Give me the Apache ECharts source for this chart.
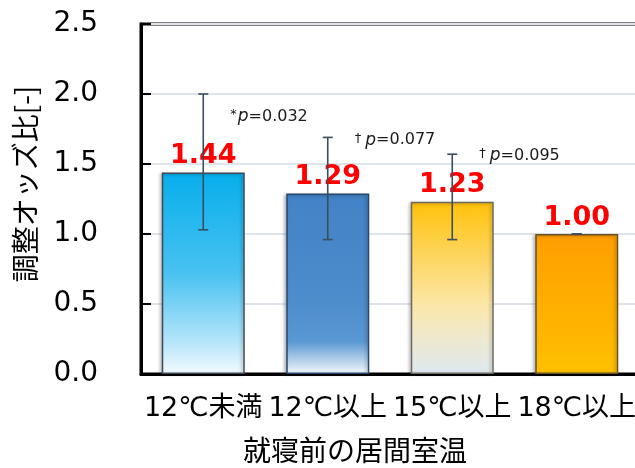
<!DOCTYPE html>
<html>
<head>
<meta charset="utf-8">
<style>
  html, body { margin: 0; padding: 0; background: #fff; overflow: hidden; }
  #chart { width: 645px; height: 468px; }
</style>
<script src="https://cdn.jsdelivr.net/npm/echarts@6/dist/echarts.min.js"></script>
</head>
<body>
<div id="chart"></div>
<script>
// Adjusted odds ratio by living-room temperature before bedtime
const categories = ['12℃未満', '12℃以上', '15℃以上', '18℃以上'];
const oddsRatio = [1.44, 1.29, 1.23, 1.00];
const ciLower = [1.03, 0.96, 0.96, 1.00];
const ciUpper = [2.00, 1.69, 1.57, 1.00];
const pMarks = ['*', '†', '†'];
const pValues = ['0.032', '0.077', '0.095'];
const pLabelY = [1.84, 1.67, 1.56];
const yTicks = [0, 0.5, 1.0, 1.5, 2.0, 2.5];

const NUM_FONT = '"DejaVu Sans", Verdana, sans-serif';
const JP_FONT = '"DejaVu Sans", "Noto Sans CJK JP", sans-serif';
const CJK_FONT = '"Noto Sans CJK JP", sans-serif';

const grad = (stops) => new echarts.graphic.LinearGradient(0, 0, 0, 1,
  stops.map(([o, c]) => ({ offset: o, color: c })));

const barStyles = [
  { color: grad([[0, '#06aeec'], [0.5, '#48c2f1'], [0.85, '#b8e6fa'], [1, '#f3fafe']]), borderColor: '#3e4a56' },
  { color: grad([[0, '#4282c6'], [0.6, '#4d8dcc'], [0.82, '#5a98d2'], [1, '#f5f8fc']]), borderColor: '#27486e' },
  { color: grad([[0, '#ffc20a'], [0.3, '#fdd45a'], [0.6, '#fbe7a8'], [0.8, '#ede8cf'], [1, '#dde8f0']]), borderColor: '#6d6a60' },
  { color: grad([[0, '#ff9e00'], [1, '#ffc000']]), borderColor: '#6b5320' }
];

const chart = echarts.init(document.getElementById('chart'), null, { renderer: 'canvas' });

// The plot area runs a little past the right edge of the 635px window,
// so its right border stays out of view.
chart.setOption({
  animation: false,
  backgroundColor: '#ffffff',
  grid: {
    left: 141, top: 24, width: 498, height: 350,
    show: true, borderColor: '#000', borderWidth: 3, backgroundColor: 'transparent'
  },
  xAxis: {
    type: 'category',
    data: categories,
    axisLine: { show: true, lineStyle: { color: '#000', width: 3 } },
    axisTick: { show: false },
    axisLabel: {
      interval: 0, margin: 21, color: '#000',
      fontSize: 27, fontFamily: JP_FONT
    }
  },
  yAxis: {
    type: 'value',
    min: 0, max: 2.5, interval: 0.5,
    axisLine: { show: true, lineStyle: { color: '#000', width: 3 } },
    axisTick: { show: true, inside: true, length: 10, lineStyle: { color: '#000', width: 2 } },
    axisLabel: {
      margin: 43, color: '#000', fontSize: 28, fontFamily: NUM_FONT,
      formatter: (v) => yTicks.includes(v) ? v.toFixed(1) : ''
    },
    splitLine: { show: true, lineStyle: { color: '#dfe4ea', width: 2 } }
  },
  series: [
    {
      type: 'bar',
      barWidth: 83,
      data: oddsRatio.map((v, i) => ({
        value: v,
        itemStyle: {
          color: barStyles[i].color,
          borderColor: barStyles[i].borderColor,
          borderWidth: 1.5,
          shadowColor: 'rgba(0,0,0,0.25)', shadowBlur: 3, shadowOffsetX: -2, shadowOffsetY: 1
        }
      })),
      label: {
        show: true, position: 'top', distance: 3,
        color: '#ff0000', fontSize: 27, fontWeight: 'bold', fontFamily: NUM_FONT,
        formatter: (p) => p.value.toFixed(2)
      },
      z: 2
    },
    {
      // 95% confidence interval whiskers
      type: 'custom',
      z: 4,
      data: ciLower.map((lo, i) => [i, lo, ciUpper[i]]),
      renderItem: (params, api) => {
        const lo = api.coord([api.value(0), api.value(1)]);
        const hi = api.coord([api.value(0), api.value(2)]);
        const half = 5;
        const style = { stroke: '#3b4d60', lineWidth: 1.6 };
        return {
          type: 'group',
          children: [
            { type: 'line', shape: { x1: lo[0], y1: lo[1], x2: hi[0], y2: hi[1] }, style },
            { type: 'line', shape: { x1: hi[0] - half, y1: hi[1], x2: hi[0] + half, y2: hi[1] }, style },
            { type: 'line', shape: { x1: lo[0] - half, y1: lo[1], x2: lo[0] + half, y2: lo[1] }, style }
          ]
        };
      }
    },
    {
      // significance annotations beside each whisker
      type: 'custom',
      z: 5,
      data: pValues.map((v, i) => [i, pLabelY[i]]),
      renderItem: (params, api) => {
        const i = params.dataIndex;
        const pt = api.coord([api.value(0), api.value(1)]);
        const gap = pMarks[i] === '†' ? 4 : 1;
        return {
          type: 'text',
          x: pt[0] + 27,
          y: pt[1],
          style: {
            text: '{m|' + pMarks[i] + '}{p|p}{n|=' + pValues[i] + '}',
            verticalAlign: 'middle',
            align: 'left',
            rich: {
              m: { fontSize: 13, fontFamily: NUM_FONT, fill: '#1a1a1a', verticalAlign: 'top', padding: [0, gap, 4, 0] },
              p: { fontSize: 17, fontStyle: 'italic', fontFamily: NUM_FONT, fill: '#1a1a1a' },
              n: { fontSize: 16, fontFamily: NUM_FONT, fill: '#1a1a1a' }
            }
          }
        };
      }
    }
  ],
  graphic: [
    {
      type: 'text',
      x: 25, y: 184,
      rotation: Math.PI / 2,
      style: {
        text: '調整オッズ比[-]',
        fontSize: 28, fontFamily: CJK_FONT, fill: '#000',
        align: 'center', verticalAlign: 'middle'
      }
    },
    {
      type: 'text',
      x: 355, y: 450,
      style: {
        text: '就寝前の居間室温',
        fontSize: 28, fontFamily: CJK_FONT, fill: '#000',
        align: 'center', verticalAlign: 'middle'
      }
    }
  ]
});
</script>
</body>
</html>
